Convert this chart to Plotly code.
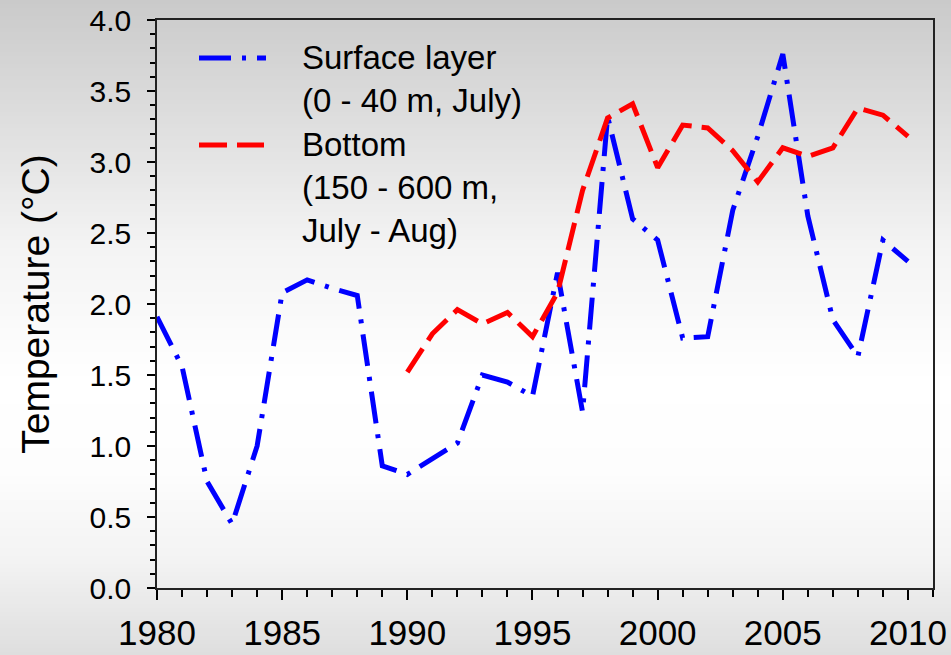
import plotly.graph_objects as go

# Annual temperature series
years = [1980, 1981, 1982, 1983, 1984, 1985, 1986, 1987, 1988, 1989,
         1990, 1991, 1992, 1993, 1994, 1995, 1996, 1997, 1998, 1999,
         2000, 2001, 2002, 2003, 2004, 2005, 2006, 2007, 2008, 2009, 2010]
surface_temp = [1.91, 1.56, 0.75, 0.45, 1.00, 2.08, 2.17, 2.11, 2.06, 0.86,
                0.80, 0.91, 1.02, 1.50, 1.45, 1.35, 2.22, 1.24, 3.32, 2.60,
                2.45, 1.76, 1.77, 2.66, 3.18, 3.76, 2.62, 1.89, 1.63, 2.45, 2.30]

bottom_years = [1990, 1991, 1992, 1993, 1994, 1995, 1996, 1997, 1998, 1999,
                2000, 2001, 2002, 2003, 2004, 2005, 2006, 2007, 2008, 2009, 2010]
bottom_temp = [1.52, 1.79, 1.96, 1.86, 1.94, 1.77, 2.08, 2.80, 3.31, 3.41,
               2.96, 3.26, 3.24, 3.08, 2.86, 3.10, 3.04, 3.10, 3.38, 3.33, 3.18]

legend_labels = ["Surface layer<br>(0 - 40 m, July)",
                 "Bottom<br>(150 - 600 m,<br>July - Aug)"]

W, H = 951, 655
ML, MR, MT, MB = 157, 18, 20, 67
PW, PH = W - ML - MR, H - MT - MB

FONT = "Arial, 'Liberation Sans', sans-serif"
BLUE_DASH = "32px,11px,4px,11px"
RED_DASH = "28px,10px"


def px_x(p):
    return (p - ML) / PW


def px_y(p):
    return (H - MB - p) / PH


fig = go.Figure()
fig.add_trace(go.Scatter(
    x=years, y=surface_temp, mode="lines", name="Surface layer",
    line=dict(color="#0000ff", width=5, dash=BLUE_DASH), showlegend=False))
fig.add_trace(go.Scatter(
    x=bottom_years, y=bottom_temp, mode="lines", name="Bottom",
    line=dict(color="#ff0000", width=5, dash=RED_DASH), showlegend=False))

# Vertical background gradient (gray -> white -> gray)
stops = [(0, 202), (120, 222), (250, 244), (380, 255), (470, 253),
         (560, 243), (600, 234), (655, 222)]


def gray_at(p):
    for (p0, g0), (p1, g1) in zip(stops[:-1], stops[1:]):
        if p0 <= p <= p1:
            return g0 + (g1 - g0) * (p - p0) / (p1 - p0)
    return stops[-1][1]


shapes = []
step = 4
for top in range(0, H, step):
    g = int(round(gray_at(top + step / 2)))
    shapes.append(dict(
        type="rect", xref="paper", yref="paper", layer="below",
        x0=px_x(0), x1=px_x(W), y0=px_y(top + step + 0.5), y1=px_y(top),
        fillcolor=f"rgb({g},{g},{g})", line=dict(width=0)))

# Legend samples
shapes.append(dict(type="line", xref="paper", yref="paper",
                   x0=px_x(199), x1=px_x(266), y0=px_y(58), y1=px_y(58),
                   line=dict(color="#0000ff", width=5, dash=BLUE_DASH)))
shapes.append(dict(type="line", xref="paper", yref="paper",
                   x0=px_x(199), x1=px_x(264), y0=px_y(145), y1=px_y(145),
                   line=dict(color="#ff0000", width=5, dash=RED_DASH)))

annotations = [
    dict(text=legend_labels[0], xref="paper", yref="paper",
         x=px_x(300), y=px_y(79), xanchor="left", yanchor="middle",
         align="left", showarrow=False,
         font=dict(family=FONT, size=33, color="black")),
    dict(text=legend_labels[1], xref="paper", yref="paper",
         x=px_x(300), y=px_y(187), xanchor="left", yanchor="middle",
         align="left", showarrow=False,
         font=dict(family=FONT, size=33, color="black")),
]

fig.update_layout(
    width=W, height=H,
    margin=dict(l=ML, r=MR, t=MT, b=MB, pad=0, autoexpand=False),
    paper_bgcolor="white", plot_bgcolor="rgba(0,0,0,0)",
    font=dict(family=FONT, color="black"),
    shapes=shapes, annotations=annotations, showlegend=False,
)

fig.update_xaxes(
    range=[1980, 2011], tickmode="linear", tick0=1980, dtick=5,
    ticks="outside", ticklen=10, tickwidth=1.5, tickcolor="black",
    minor=dict(dtick=1, ticks="outside", ticklen=7, tickwidth=1.5, tickcolor="black"),
    showline=True, linecolor="#222222", linewidth=1.5, mirror=True,
    showgrid=False, zeroline=False, automargin=False,
    tickfont=dict(family=FONT, size=35, color="black"),
    ticklabelstandoff=3,
)
fig.update_yaxes(
    range=[0, 4], tickmode="linear", tick0=0, dtick=0.5, tickformat=".1f",
    ticks="outside", ticklen=8, tickwidth=1.5, tickcolor="black",
    minor=dict(dtick=0.1, ticks="outside", ticklen=5, tickwidth=1.5, tickcolor="black"),
    showline=True, linecolor="#222222", linewidth=1.5, mirror=True,
    showgrid=False, zeroline=False, automargin=False,
    tickfont=dict(family=FONT, size=30, color="black"),
    ticklabelstandoff=10,
    title=dict(text="Temperature (°C)", standoff=28,
               font=dict(family=FONT, size=39, color="black")),
)

fig.write_html("out.html")
